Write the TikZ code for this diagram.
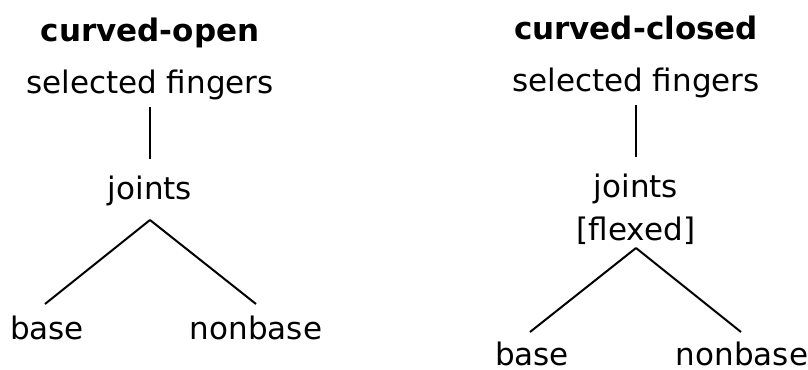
\documentclass[tikz,border=0pt]{standalone}
\usepackage{fontspec}
\setmainfont{DejaVu Sans}

\begin{document}
\begin{tikzpicture}[
        x=0.75pt, y=-0.75pt,
        lab/.style={inner sep=0pt, anchor=base, font=\fontsize{23.25pt}{28pt}\selectfont},
        ttl/.style={lab, font=\fontsize{23.25pt}{28pt}\selectfont\bfseries},
        branch/.style={line width=1.5pt},
    ]
    \useasboundingbox (0,0) rectangle (808,369);

    % === Left tree: curved-open ===
    \node[ttl] (t1) at (150,41) {curved-open};
    \node[lab] (sf1) at (150,93) {selected fingers};
    \node[lab] (j1) at (150,199) {joints};
    \node[lab] (b1) at (47,339) {base};
    \node[lab] (nb1) at (256,339) {nonbase};

    \draw[branch] ([yshift=-10.5pt]sf1.base) -- ([yshift=30pt]j1.base);
    \draw[branch] ([yshift=-15.75pt]j1.base) -- ([xshift=-1.5pt, yshift=26.25pt]b1.base);
    \draw[branch] ([yshift=-15.75pt]j1.base) -- ([yshift=26.25pt]nb1.base);

    % === Right tree: curved-closed ===
    \node[ttl] (t2) at (636,39) {curved-closed};
    \node[lab] (sf2) at (636,91) {selected fingers};
    \node[lab] (j2) at (636,197) {joints};
    \node[lab] (fx2) at (636,240) {[flexed]};
    \node[lab] (b2) at (532,365) {base};
    \node[lab] (nb2) at (742,365) {nonbase};

    \draw[branch] ([yshift=-10.5pt]sf2.base) -- ([yshift=30pt]j2.base);
    \draw[branch] ([yshift=-6pt]fx2.base) -- ([xshift=-1.5pt, yshift=24.75pt]b2.base);
    \draw[branch] ([yshift=-6pt]fx2.base) -- ([xshift=-0.75pt, yshift=24.75pt]nb2.base);

\end{tikzpicture}
\end{document}
